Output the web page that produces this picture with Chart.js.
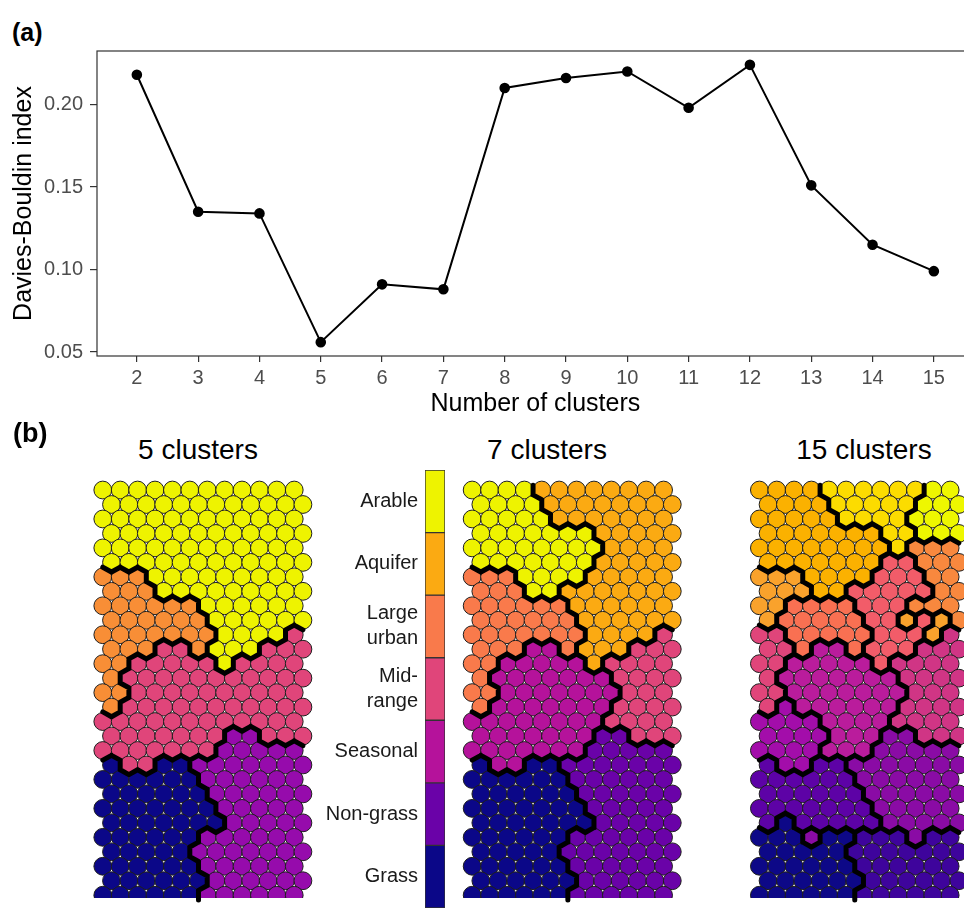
<!DOCTYPE html>
<html>
<head>
<meta charset="utf-8">
<script src="https://cdn.jsdelivr.net/npm/chart.js@4.4.1/dist/chart.umd.min.js"></script>
<style>
  html, body { margin: 0; padding: 0; background: #fff; overflow: hidden; width: 964px; height: 908px; }
  canvas { position: absolute; }
  .lbl { position: absolute; font-family: 'Liberation Sans', Arial, sans-serif; color: #000; white-space: nowrap; }
</style>
</head>
<body>
<div class="lbl" style="left:12px; top:20px; font-size:25px; line-height:25px; font-weight:bold;">(a)</div>
<canvas id="dbChart" width="980" height="420" style="left:0; top:0;"></canvas>

<div class="lbl" style="left:13px; top:420px; font-size:27px; line-height:27px; font-weight:bold;">(b)</div>
<div class="lbl" style="left:98px; width:200px; text-align:center; top:436px; font-size:28px; line-height:28px;">5 clusters</div>
<div class="lbl" style="left:447px; width:200px; text-align:center; top:436px; font-size:28px; line-height:28px;">7 clusters</div>
<div class="lbl" style="left:764px; width:200px; text-align:center; top:436px; font-size:28px; line-height:28px;">15 clusters</div>

<canvas id="map5" width="250" height="440" style="left:80px; top:468px;"></canvas>
<canvas id="map7" width="250" height="440" style="left:450px; top:468px;"></canvas>
<canvas id="map15" width="240" height="440" style="left:736px; top:468px;"></canvas>
<canvas id="legendBar" width="135" height="440" style="left:310px; top:468px;"></canvas>

<script>
// (a) Davies-Bouldin index against number of clusters
const clusterCounts = [2, 3, 4, 5, 6, 7, 8, 9, 10, 11, 12, 13, 14, 15];
const dbIndex = [0.218, 0.135, 0.134, 0.056, 0.091, 0.088, 0.210, 0.216, 0.220, 0.198, 0.224, 0.151, 0.115, 0.099];
const dbTicks = [0.05, 0.10, 0.15, 0.20];

// (b) SOM cluster maps, one character per cell, one string per row
const map5Keys = ['Y', 'O', 'P', 'M', 'N'];
const map5Rows = [
  'YYYYYYYYYYYY', 'YYYYYYYYYYYY', 'YYYYYYYYYYYY', 'YYYYYYYYYYYY', 'YYYYYYYYYYYY',
  'YYYYYYYYYYYY', 'OOOYYYYYYYYY', 'OOOYYYYYYYYY', 'OOOOOOYYYYYY', 'OOOOOOYYYYYY',
  'OOOOOOOYYYYP', 'OOOPPOYYYPPP', 'OOPPPPPYPPPP', 'OPPPPPPPPPPP', 'OOPPPPPPPPPP',
  'OPPPPPPPPPPP', 'PPPPPPPPPPPP', 'PPPPPPPMMPPP', 'PPPPPPPMMMMM', 'NPPNNMMMMMMM',
  'NNNNNNMMMMMM', 'NNNNNNMMMMMM', 'NNNNNNNMMMMM', 'NNNNNNNMMMMM', 'NNNNNNMMMMMM',
  'NNNNNMMMMMMM', 'NNNNNNMMMMMM', 'NNNNNNMMMMMM', 'NNNNNNMMMMMM'
];

const map7Keys = ['A', 'Q', 'U', 'R', 'S', 'G', 'N'];
const map7Rows = [
  'AAAAQQQQQQQQ', 'AAAAQQQQQQQQ', 'AAAAAQQQQQQQ', 'AAAAAAAQQQQQ', 'AAAAAAAAQQQQ',
  'AAAAAAAQQQQQ', 'UUUAAAAQQQQQ', 'UUUAAQQQQQQQ', 'UUUUUUQQQQQQ', 'UUUUUUQQQQQQ',
  'UUUUUUUQQQQR', 'UUUSSUQQQRRR', 'UUSSSSSQRRRR', 'USSSSSSSRRRR', 'UUSSSSSSSRRR',
  'USSSSSSSRRRR', 'SSSSSSSSRRRR', 'SSSSSSSGGRRR', 'SSSSSSSGGGGG', 'NSSNNGGGGGGG',
  'NNNNNNGGGGGG', 'NNNNNNGGGGGG', 'NNNNNNNGGGGG', 'NNNNNNNGGGGG', 'NNNNNNGGGGGG',
  'NNNNNGGGGGGG', 'NNNNNNGGGGGG', 'NNNNNNGGGGGG', 'NNNNNNGGGGGG'
];

const map15Keys = ['1', '2', '3', '4', '5', '6', '7', '8', '9', 'a', 'b', 'c', 'd', 'e', 'f'];
const map15Rows = [
  'ddddeeeeeeff', 'ddddeeeeefff', 'dddddeeeefff', 'dddddddeefff', 'ddddddddebbb',
  'ddddddd99bbb', 'cccdddd999bb', 'cccdd99999bb', 'ccaaaa999bbb', 'caaaaa99c9cb',
  '88aaaaa999c7', '88a66a999777', '886666697777', '866666667777', '886666666777',
  '856666667777', '555566667777', '555566644777', '555566644444', '355334444444',
  '333333444444', '333333444444', '333333344444', '313333344444', '111411222422',
  '111112222222', '111111222222', '111111222222', '111111222222'
];

// colour bar categories, top to bottom
const legendLabels = ['Arable', 'Aquifer', ['Large', 'urban'], ['Mid-', 'range'], 'Seasonal', 'Non-grass', 'Grass'];

// palettes
const map5Colors = ['#EEF300', '#F88E36', '#E0457A', '#960BAC', '#0B0788'];
const map7Colors = ['#EEF300', '#FBAA12', '#F97A4B', '#E0457A', '#B5129B', '#6A02A8', '#0B0788'];
const map15Colors = ['#0D0887', '#3E049C', '#5D02A6', '#8A0BA5', '#A30DAA', '#BA1C9C', '#D03585', '#E0457A',
                     '#F25C69', '#F97052', '#F8883E', '#F9A22C', '#FBB100', '#FCDC00', '#EEF700'];

Chart.defaults.font.family = "'Liberation Sans', Arial, sans-serif";

// panel frame round the plot area
const frame = {
  id: 'frame',
  afterDraw(chart) {
    const a = chart.chartArea, ctx = chart.ctx;
    ctx.save();
    ctx.strokeStyle = '#333';
    ctx.lineWidth = 1.2;
    ctx.strokeRect(a.left, a.top, a.right - a.left, a.bottom - a.top);
    ctx.restore();
  }
};

new Chart(document.getElementById('dbChart'), {
  type: 'line',
  data: {
    datasets: [{
      data: clusterCounts.map((k, i) => ({ x: k, y: dbIndex[i] })),
      borderColor: '#000',
      borderWidth: 2,
      pointRadius: 4.3,
      pointBackgroundColor: '#000',
      pointBorderColor: '#000',
      tension: 0
    }]
  },
  options: {
    responsive: false,
    animation: false,
    events: [],
    layout: { padding: { top: 51, right: 5, left: 0, bottom: 0 } },
    plugins: { legend: { display: false }, tooltip: { enabled: false } },
    scales: {
      x: {
        type: 'linear', min: 1.35, max: 15.65,
        afterBuildTicks: s => { s.ticks = clusterCounts.map(v => ({ value: v })); },
        afterFit: s => { s.height = 64; },
        grid: { drawOnChartArea: false, tickLength: 6, color: '#333', lineWidth: 1.2 },
        border: { display: false },
        ticks: { color: '#4d4d4d', font: { size: 20 }, padding: 4, maxRotation: 0, autoSkip: false },
        title: { display: true, text: 'Number of clusters', color: '#000',
                 font: { size: 25, lineHeight: 1.2 }, padding: { top: 0, bottom: 1 } }
      },
      y: {
        type: 'linear', min: 0.0476, max: 0.2324,
        afterBuildTicks: s => { s.ticks = dbTicks.map(v => ({ value: v })); },
        afterFit: s => { s.width = 97; },
        grid: { drawOnChartArea: false, tickLength: 7, color: '#333', lineWidth: 1.2 },
        border: { display: false },
        ticks: { color: '#4d4d4d', font: { size: 20 }, padding: 7, callback: v => v.toFixed(2) },
        title: { display: true, text: 'Davies-Bouldin index', color: '#000',
                 font: { size: 25, lineHeight: 1.2 }, padding: { top: 9, bottom: 0 } }
      }
    }
  },
  plugins: [frame]
});

// thick lines along the hex edges between cells of different clusters
function clusterEdges(rows) {
  return {
    id: 'clusterEdges',
    afterDatasetsDraw(chart) {
      const xs = chart.scales.x, ys = chart.scales.y, ctx = chart.ctx;
      const P = (x, y) => [xs.getPixelForValue(x), ys.getPixelForValue(y)];
      const seg = (a, b) => { ctx.moveTo(a[0], a[1]); ctx.lineTo(b[0], b[1]); };
      ctx.save();
      ctx.strokeStyle = '#000';
      ctx.lineWidth = 5;
      ctx.lineCap = 'round';
      ctx.lineJoin = 'round';
      ctx.beginPath();
      rows.forEach((row, r) => {
        const x0 = (r % 2) * 0.5;
        for (let c = 0; c < row.length; c++) {
          const x = c + x0, k = row[c];
          if (c + 1 < row.length && row[c + 1] !== k) seg(P(x + 0.5, r - 1 / 3), P(x + 0.5, r + 1 / 3));
          if (r + 1 < rows.length) {
            const below = rows[r + 1];
            const cl = r % 2 === 0 ? c - 1 : c, cr = cl + 1;
            if (cl >= 0 && cl < below.length && below[cl] !== k) seg(P(x - 0.5, r + 1 / 3), P(x, r + 2 / 3));
            if (cr < below.length && below[cr] !== k) seg(P(x, r + 2 / 3), P(x + 0.5, r + 1 / 3));
          }
        }
      });
      ctx.stroke();
      ctx.restore();
    }
  };
}

function somMap(id, rows, keys, colors, xMin, xMax) {
  const pts = [], fills = [];
  rows.forEach((row, r) => {
    for (let c = 0; c < row.length; c++) {
      pts.push({ x: c + (r % 2) * 0.5, y: r });
      fills.push(colors[keys.indexOf(row[c])]);
    }
  });
  new Chart(document.getElementById(id), {
    type: 'scatter',
    data: {
      datasets: [{
        data: pts,
        pointBackgroundColor: fills,
        pointBorderColor: '#1e1e1e',
        pointBorderWidth: 1,
        pointRadius: 8.9
      }]
    },
    options: {
      responsive: false,
      animation: false,
      events: [],
      layout: { padding: 0 },
      plugins: { legend: { display: false }, tooltip: { enabled: false } },
      scales: {
        x: { type: 'linear', display: false, min: xMin, max: xMax },
        y: { type: 'linear', display: false, min: -0.838, max: 28.2, reverse: true }
      }
    },
    plugins: [clusterEdges(rows)]
  });
}

somMap('map5', map5Rows, map5Keys, map5Colors, -0.741, 12.487);
somMap('map7', map7Rows, map7Keys, map7Colors, -0.704, 12.524);
somMap('map15', map15Rows, map15Keys, map15Colors, -0.778, 11.92);

// colour bar with the 7 cluster names
new Chart(document.getElementById('legendBar'), {
  type: 'bar',
  data: {
    labels: [''],
    datasets: legendLabels.map((name, i) => ({
      label: Array.isArray(name) ? name.join(' ') : name,
      data: [1],
      backgroundColor: map7Colors[i],
      borderColor: '#333',
      borderWidth: 1,
      borderSkipped: false,
      barPercentage: 1,
      categoryPercentage: 1
    }))
  },
  options: {
    responsive: false,
    animation: false,
    events: [],
    layout: { padding: { top: 2, right: 0, bottom: 0, left: 0 } },
    plugins: { legend: { display: false }, tooltip: { enabled: false } },
    scales: {
      x: { stacked: true, display: false },
      y: {
        stacked: true, min: 0, max: legendLabels.length, reverse: true,
        afterBuildTicks: s => { s.ticks = legendLabels.map((n, i) => ({ value: i + 0.5 })); },
        afterFit: s => { s.width = 115; s.paddingTop = 0; s.paddingBottom = 0; },
        grid: { display: false, drawTicks: false },
        border: { display: false },
        ticks: {
          color: '#1a1a1a', font: { size: 20, lineHeight: 1.25 }, padding: 7, autoSkip: false,
          callback: v => legendLabels[Math.floor(v)]
        }
      }
    }
  }
});
</script>
</body>
</html>
